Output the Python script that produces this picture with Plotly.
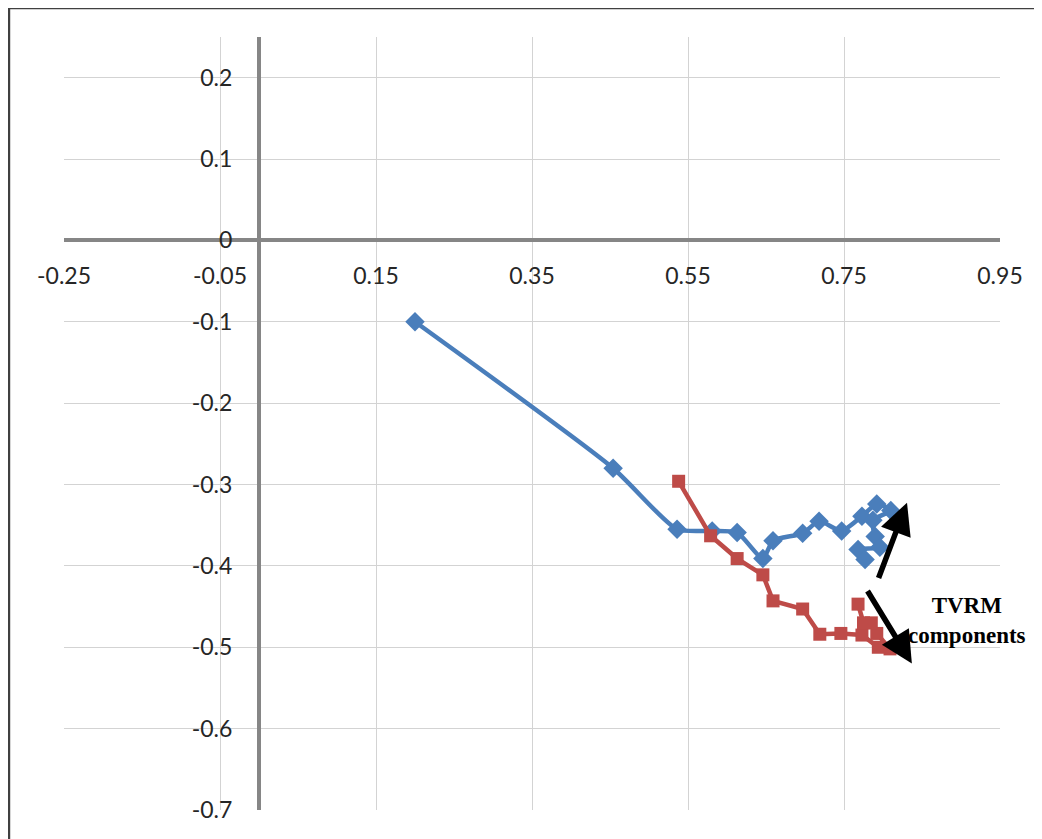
import plotly.graph_objects as go

# Series 1 (blue, diamonds, smoothed)
blue_x = [0.200, 0.454, 0.536, 0.581, 0.613, 0.646, 0.659, 0.697, 0.718, 0.747,
          0.773, 0.792, 0.810, 0.787, 0.790, 0.796, 0.768, 0.777]
blue_y = [-0.100, -0.280, -0.355, -0.357, -0.359, -0.391, -0.369, -0.360, -0.345, -0.357,
          -0.339, -0.324, -0.332, -0.344, -0.364, -0.377, -0.380, -0.392]

# Series 2 (red, squares)
red_x = [0.538, 0.579, 0.613, 0.646, 0.659, 0.697, 0.719, 0.746,
         0.773, 0.794, 0.809, 0.792, 0.785, 0.775, 0.768]
red_y = [-0.296, -0.363, -0.391, -0.411, -0.443, -0.453, -0.484, -0.483,
         -0.485, -0.500, -0.502, -0.483, -0.470, -0.470, -0.447]

x_ticks = [-0.25, -0.05, 0.15, 0.35, 0.55, 0.75, 0.95]
x_labels = ["-0.25", "-0.05", "0.15", "0.35", "0.55", "0.75", "0.95"]
y_ticks = [-0.7, -0.6, -0.5, -0.4, -0.3, -0.2, -0.1, 0, 0.1, 0.2]
y_labels = ["-0.7", "-0.6", "-0.5", "-0.4", "-0.3", "-0.2", "-0.1", "0", "0.1", "0.2"]

x_range = [-0.25, 0.95]
y_range = [-0.7, 0.25]

BLUE = "#4A7EBB"
RED = "#BE4B48"
AXIS = "#868686"
GRID = "#D3D3D3"

fig = go.Figure()
fig.add_trace(go.Scatter(
    x=blue_x, y=blue_y, mode="lines+markers",
    line=dict(color=BLUE, width=4.5, shape="spline", smoothing=0.6),
    marker=dict(symbol="diamond", size=15, color=BLUE),
    showlegend=False, cliponaxis=False,
))
fig.add_trace(go.Scatter(
    x=red_x, y=red_y, mode="lines+markers",
    line=dict(color=RED, width=4.5),
    marker=dict(symbol="square", size=13, color=RED),
    showlegend=False, cliponaxis=False,
))

font_ticks = dict(family="Lato, Carlito, Calibri, sans-serif", size=23, color="#262626")

x_pos = (0 - x_range[0]) / (x_range[1] - x_range[0])
y_pos = (0 - y_range[0]) / (y_range[1] - y_range[0])

fig.update_layout(
    width=1034, height=831,
    margin=dict(l=56, r=42, t=29, b=29),
    paper_bgcolor="white", plot_bgcolor="white",
    xaxis=dict(
        range=x_range, tickvals=x_ticks, ticktext=x_labels,
        showgrid=True, gridcolor=GRID, gridwidth=1,
        zeroline=False, showline=True, linecolor=AXIS, linewidth=4,
        anchor="free", position=y_pos, ticks="", ticklabelstandoff=14,
        tickfont=font_ticks,
    ),
    yaxis=dict(
        range=y_range, tickvals=y_ticks, ticktext=y_labels,
        showgrid=True, gridcolor=GRID, gridwidth=1,
        zeroline=False, showline=True, linecolor=AXIS, linewidth=4,
        anchor="free", position=x_pos, ticks="", ticklabelstandoff=20,
        tickfont=font_ticks,
    ),
    shapes=[
        dict(type="rect", xref="paper", yref="paper",
             x0=-0.0588, x1=1.2, y0=-0.2, y1=1.0375,
             line=dict(color="#404040", width=2.5), fillcolor="rgba(0,0,0,0)",
             layer="above"),
    ],
    annotations=[
        dict(x=0.8308, y=-0.3223, ax=0.7936, ay=-0.4167, xref="x", yref="y",
             axref="x", ayref="y", text="", showarrow=True,
             arrowhead=2, arrowsize=1.15, arrowwidth=5.5, arrowcolor="black", standoff=0),
        dict(x=0.837, y=-0.520, ax=0.779, ay=-0.429, xref="x", yref="y",
             axref="x", ayref="y", text="", showarrow=True,
             arrowhead=2, arrowsize=1.15, arrowwidth=5.5, arrowcolor="black", standoff=0),
        dict(x=0.908, y=-0.467, xref="x", yref="y", showarrow=False,
             text="<b>TVRM</b><br><b>components</b>",
             font=dict(family="Liberation Serif, Times New Roman, serif", size=23, color="black"),
             align="center"),
    ],
)

fig.write_html("out.html")
